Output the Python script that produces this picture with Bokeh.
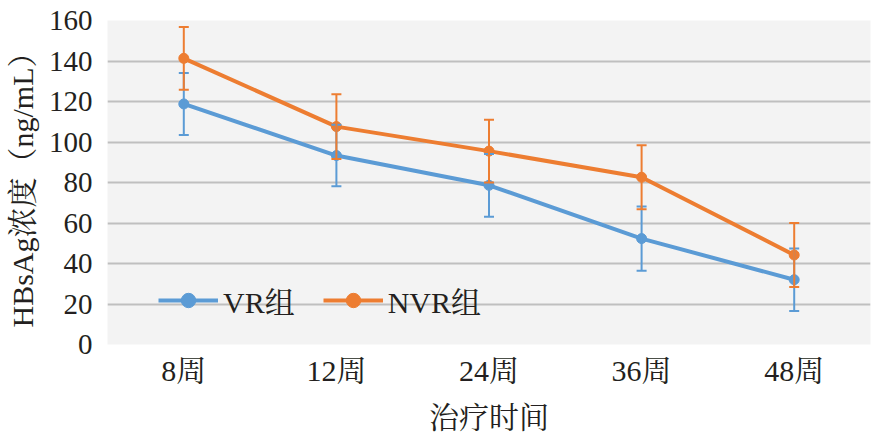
from bokeh.plotting import figure
from bokeh.models import (ColumnDataSource, FactorRange, Range1d, Whisker, TeeHead,
                          Legend, LegendItem, SingleIntervalTicker)
from bokeh.embed import file_html
from bokeh.resources import INLINE

categories = ["8周", "12周", "24周", "36周", "48周"]
vr_values = [118.8, 93.3, 78.6, 52.3, 32.0]
vr_errors = [15.3, 15.2, 15.5, 15.9, 15.4]
nvr_values = [141.3, 107.6, 95.5, 82.6, 44.2]
nvr_errors = [15.5, 16.0, 15.5, 15.8, 15.8]
y_ticks_interval = 20
series_names = ["VR组", "NVR组"]
x_title = "治疗时间"
y_title = "HBsAg浓度（ng/mL）"

BLUE = "#5b9bd5"
ORANGE = "#ed7d31"
FONT = "'Liberation Serif', 'Noto Serif CJK SC', 'Noto Sans CJK SC'"
TXT = "#231f20"

p = figure(x_range=FactorRange(*categories), y_range=Range1d(0, 160),
           width=888, height=439, output_backend="svg", toolbar_location=None,
           min_border_left=107, min_border_right=18, min_border_top=20, min_border_bottom=95)
p.background_fill_color = "#f3f3f3"
p.border_fill_color = "white"
p.outline_line_color = None

def src(vals, errs):
    return ColumnDataSource(dict(x=categories, y=vals,
                                 upper=[v + e for v, e in zip(vals, errs)],
                                 lower=[v - e for v, e in zip(vals, errs)]))

s_vr = src(vr_values, vr_errors)
s_nvr = src(nvr_values, nvr_errors)

l1 = p.line("x", "y", source=s_vr, line_color=BLUE, line_width=4)
c1 = p.scatter("x", "y", source=s_vr, size=10, fill_color=BLUE, line_color=BLUE)
l2 = p.line("x", "y", source=s_nvr, line_color=ORANGE, line_width=4)
c2 = p.scatter("x", "y", source=s_nvr, size=10, fill_color=ORANGE, line_color=ORANGE)

for s, col in ((s_vr, BLUE), (s_nvr, ORANGE)):
    w = Whisker(source=s, base="x", upper="upper", lower="lower",
                line_color=col, line_width=2, level="glyph",
                upper_head=TeeHead(size=10, line_color=col, line_width=2),
                lower_head=TeeHead(size=10, line_color=col, line_width=2))
    p.add_layout(w)

legend = Legend(items=[LegendItem(label=series_names[0], renderers=[l1, c1]),
                       LegendItem(label=series_names[1], renderers=[l2, c2])],
                orientation="horizontal", location=(51, 22),
                background_fill_alpha=0, border_line_color=None,
                padding=0, margin=0, spacing=28, label_standoff=5,
                glyph_width=60, glyph_height=36, label_height=36,
                label_text_font=FONT, label_text_font_size="30px", label_text_color=TXT)
p.add_layout(legend)

p.ygrid.grid_line_color = "#bfbfbf"
p.ygrid.grid_line_width = 2
p.xgrid.grid_line_color = None

p.yaxis.ticker = SingleIntervalTicker(interval=y_ticks_interval)
for ax in (p.xaxis, p.yaxis):
    ax.axis_line_color = None
    ax.major_tick_line_color = None
    ax.minor_tick_line_color = None
    ax.major_tick_out = 0
    ax.major_tick_in = 0
    ax.major_label_text_font = FONT
    ax.major_label_text_font_size = "30px"
    ax.major_label_text_color = TXT
    ax.axis_label_text_font = FONT
    ax.axis_label_text_font_size = "30px"
    ax.axis_label_text_color = TXT
    ax.axis_label_text_font_style = "normal"

p.yaxis.major_label_text_font_size = "29px"
p.xaxis.axis_label = x_title
p.yaxis.axis_label = y_title
p.xaxis.major_label_standoff = 9
p.yaxis.major_label_standoff = 11
p.xaxis.axis_label_standoff = 11
p.yaxis.axis_label_standoff = 7

open("out.html", "w").write(file_html(p, INLINE))
